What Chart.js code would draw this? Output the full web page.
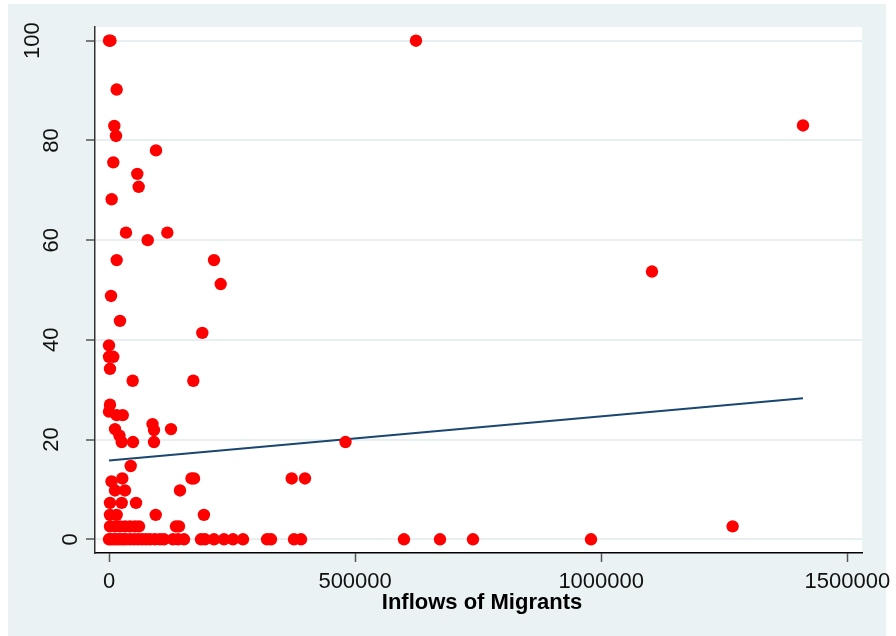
<!DOCTYPE html>
<html>
<head>
<meta charset="utf-8">
<title>Inflows of Migrants</title>
<script src="https://cdn.jsdelivr.net/npm/chart.js@4.4.1/dist/chart.umd.min.js"></script>
<style>
  html, body { margin: 0; padding: 0; background: #fff; }
</style>
</head>
<body>
<canvas id="chart" width="896" height="636"></canvas>
<script>
// scatter points (x = inflows, y = value on the vertical axis)
const inflows = [
  0, 3000, 623700, 15600, 10800, 14200, 1410000, 95500, 8700, 57500,
  60300, 5400, 34500, 118500, 78600, 15600, 213300, 1103200, 226900, 4100,
  22300, 189600, 0, 0, 8700, 2000, 48100, 171300, 2000, 0,
  15600, 27800, 88400, 12200, 126000, 91400, 21300, 25800, 48800, 91400,
  480500, 44100, 27000, 167600, 172700, 371200, 398200, 5100, 12200, 32500,
  144200, 2000, 25800, 54900, 2000, 15600, 94900, 192800,
  2000, 12200, 22300, 32500, 42700, 52800, 61000, 136100, 142200, 1267000,
  0, 4100, 10200, 16300, 22300, 28400, 34500, 42700, 50800, 58900,
  67000, 75200, 83300, 93500, 103600, 111700, 130000, 140200, 152400, 186900,
  195000, 213300, 233600, 251900, 272300, 321100, 329100, 375900, 390100, 599300,
  672500, 739500, 979300
]
const values = [
  100, 100, 100, 90.2, 82.9, 80.9, 83.0, 78.0, 75.6, 73.3,
  70.7, 68.2, 61.5, 61.5, 60.0, 56.0, 56.0, 53.7, 51.2, 48.8,
  43.8, 41.4, 38.9, 36.6, 36.6, 34.2, 31.8, 31.8, 27.0, 25.6,
  24.9, 24.9, 23.1, 22.1, 22.1, 21.9, 20.8, 19.5, 19.5, 19.5,
  19.5, 14.7, 12.2, 12.2, 12.2, 12.2, 12.2, 11.6, 9.8, 9.8,
  9.8, 7.3, 7.3, 7.3, 4.9, 4.9, 4.9, 4.9,
  2.6, 2.6, 2.6, 2.6, 2.6, 2.6, 2.6, 2.6, 2.6, 2.6,
  0, 0, 0, 0, 0, 0, 0, 0, 0, 0,
  0, 0, 0, 0, 0, 0, 0, 0, 0, 0,
  0, 0, 0, 0, 0, 0, 0, 0, 0, 0,
  0, 0, 0
]

// fitted line end points
const fitX = [0, 1410000]
const fitY = [15.8, 28.3]

const xTicks = [0, 500000, 1000000, 1500000]
const yTicks = [0, 20, 40, 60, 80, 100]
const xTitle = 'Inflows of Migrants'

const FONT = '"Liberation Sans", Arial, sans-serif'

// light frame round the plot, white plot area
const frame = {
  id: 'frame',
  beforeDraw(chart) {
    const { ctx, chartArea } = chart
    ctx.save()
    ctx.fillStyle = '#fff'
    ctx.fillRect(0, 0, chart.width, chart.height)
    ctx.fillStyle = '#eaf2f3'
    ctx.fillRect(8, 4, 878, 632)
    ctx.fillStyle = '#fff'
    ctx.fillRect(chartArea.left, chartArea.top, chartArea.right - chartArea.left, chartArea.bottom - chartArea.top)
    ctx.restore()
  }
}

// tick labels (y ones turned on their side) and the x title
const axisText = {
  id: 'axisText',
  afterDraw(chart) {
    const { ctx } = chart
    const { x, y } = chart.scales
    ctx.save()
    ctx.fillStyle = '#111'
    ctx.font = '22px ' + FONT
    ctx.textAlign = 'center'
    ctx.textBaseline = 'alphabetic'
    xTicks.forEach(v => ctx.fillText(String(v), x.getPixelForValue(v), 588))
    yTicks.forEach(v => {
      const label = String(v)
      const w = ctx.measureText(label).width
      ctx.save()
      ctx.translate(95.5 - 1.55 * w, y.getPixelForValue(v))
      ctx.rotate(-Math.PI / 2)
      ctx.fillText(label, 0, 0)
      ctx.restore()
    })
    ctx.font = 'bold 22px ' + FONT
    ctx.fillStyle = '#000'
    ctx.fillText(xTitle, 482, 609)
    ctx.restore()
  }
}

const points = inflows.map((v, i) => ({ x: v, y: values[i] }))
const fitLine = fitX.map((v, i) => ({ x: v, y: fitY[i] }))

new Chart(document.getElementById('chart'), {
  type: 'scatter',
  data: {
    datasets: [
      {
        data: points,
        backgroundColor: '#ff0000',
        borderWidth: 0,
        pointRadius: 6.2,
        order: 0
      },
      {
        type: 'line',
        data: fitLine,
        borderColor: '#1a476f',
        borderWidth: 2,
        pointRadius: 0,
        fill: false,
        order: 1
      }
    ]
  },
  options: {
    responsive: false,
    animation: false,
    devicePixelRatio: 1,
    layout: { padding: { top: 27, right: 34, left: 0, bottom: 0 } },
    plugins: {
      legend: { display: false },
      tooltip: { enabled: false }
    },
    scales: {
      x: {
        type: 'linear',
        min: -28444,
        max: 1529870,
        afterBuildTicks: s => { s.ticks = xTicks.map(v => ({ value: v })) },
        afterFit: s => { s.height = 83 },
        ticks: { display: false },
        grid: {
          drawOnChartArea: false,
          drawTicks: true,
          tickLength: 9,
          tickColor: '#555',
          tickWidth: 1.5
        },
        border: { display: true, color: '#000', width: 1.5 }
      },
      y: {
        min: -2.75,
        max: 102.75,
        afterBuildTicks: s => { s.ticks = yTicks.map(v => ({ value: v })) },
        afterFit: s => { s.width = 95 },
        ticks: { display: false },
        grid: {
          color: '#e8eff2',
          lineWidth: 2,
          drawTicks: true,
          tickLength: 9,
          tickColor: '#555',
          tickWidth: 1.5
        },
        border: { display: true, color: '#333', width: 1.5 }
      }
    }
  },
  plugins: [frame, axisText]
})
</script>
</body>
</html>
